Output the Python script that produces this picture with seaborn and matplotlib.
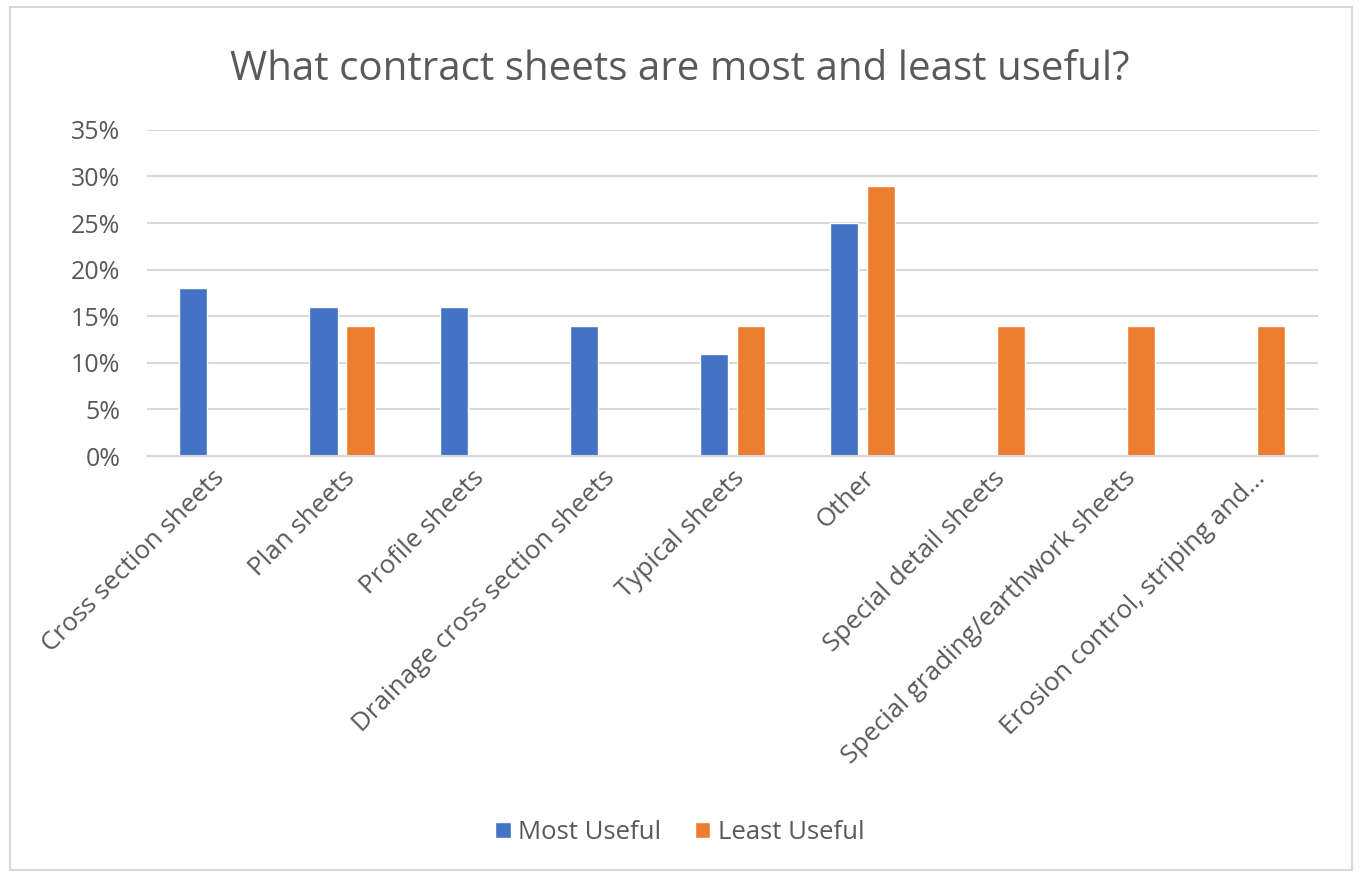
import matplotlib
matplotlib.use("Agg")
import matplotlib.pyplot as plt
import seaborn as sns
import pandas as pd
from matplotlib.patches import Rectangle, Patch
from matplotlib.ticker import FuncFormatter

categories = ["Cross section sheets", "Plan sheets", "Profile sheets",
              "Drainage cross section sheets", "Typical sheets", "Other",
              "Special detail sheets", "Special grading/earthwork sheets",
              "Erosion control, striping and..."]
most_useful = [18, 16, 16, 14, 11, 25, 0, 0, 0]
least_useful = [0, 14, 0, 0, 14, 29, 14, 14, 14]
series_names = ["Most Useful", "Least Useful"]
colors = ["#4472C4", "#ED7D31"]
title = "What contract sheets are most and least useful?"

rows = []
for c, m, l in zip(categories, most_useful, least_useful):
    rows.append({"cat": c, "series": series_names[0], "val": m / 100})
    rows.append({"cat": c, "series": series_names[1], "val": l / 100})
df = pd.DataFrame(rows)

sns.set_theme(style="white")
plt.rcParams["font.family"] = ["Open Sans", "DejaVu Sans"]
txt = "#595959"

fig = plt.figure(figsize=(13.6, 8.77), dpi=100)
ax = fig.add_axes([0.108, 0.480, 0.861, 0.372])

sns.barplot(data=df, x="cat", y="val", hue="series", order=categories,
            hue_order=series_names, palette=colors, width=0.57, gap=0.24,
            saturation=1, ax=ax, legend=False)

ax.set_ylim(0, 0.35)
ax.set_yticks([i * 0.05 for i in range(8)])
ax.yaxis.set_major_formatter(FuncFormatter(lambda v, p: f"{v*100:.0f}%"))
ax.set_xlim(-0.5, len(categories) - 0.5)
ax.grid(axis="y", color="#D9D9D9", linewidth=1.5)
ax.set_axisbelow(True)
for s in ["top", "right", "left"]:
    ax.spines[s].set_visible(False)
ax.spines["bottom"].set_color("#D9D9D9")
ax.spines["bottom"].set_linewidth(1.5)
ax.tick_params(axis="y", length=0, colors=txt, labelsize=18, pad=19)
ax.tick_params(axis="x", length=0, colors=txt, labelsize=18.7, pad=7)
ax.set_xlabel("")
ax.set_ylabel("")
for lab in ax.get_xticklabels():
    lab.set_rotation(45)
    lab.set_ha("right")
    lab.set_rotation_mode("anchor")

fig.text(0.5, 0.921, title, ha="center", va="center", fontsize=29, color=txt)

handles = [Patch(facecolor=c, label=n) for c, n in zip(colors, series_names)]
fig.legend(handles=handles, loc="center", bbox_to_anchor=(0.5, 0.051),
           ncol=2, frameon=False, fontsize=18.5, handlelength=0.6,
           handleheight=0.6, handletextpad=0.3, columnspacing=1.3,
           labelcolor=txt)

fig.patches.append(Rectangle((10 / 1360, 7 / 877), 1342 / 1360, 863 / 877,
                             transform=fig.transFigure, fill=False,
                             edgecolor="#D9D9D9", linewidth=1.5))

fig.savefig("out.png", dpi=100, facecolor="white")
